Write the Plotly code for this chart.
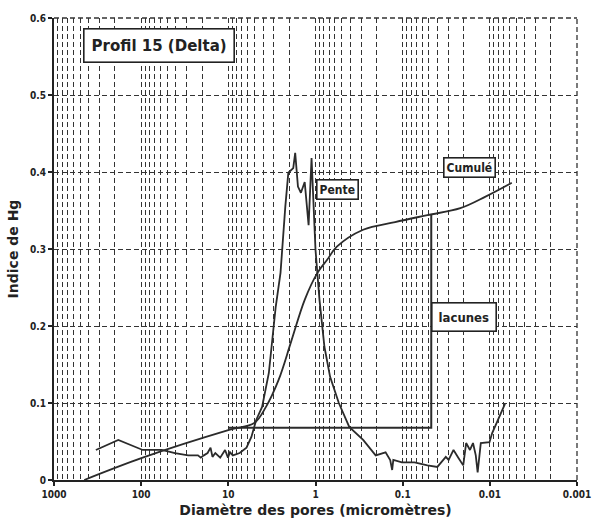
import numpy as np
import plotly.graph_objects as go

# Pore diameter (micrometres) and Hg index
pente_d = [331, 183, 96, 58, 41, 28.9, 22.3, 20.7, 19.1, 17.3, 16.0, 15.2, 14.1, 12.4,
           10.9, 10.1, 9.57, 8.87, 7.41, 6.19, 5.44, 4.79, 4.10, 3.43, 2.86, 2.52, 2.22,
           2.05, 1.80, 1.71, 1.59, 1.47, 1.33, 1.20, 1.11, 1.05, 1.00, 0.90, 0.79, 0.68,
           0.54, 0.41, 0.284, 0.204, 0.157, 0.139, 0.132, 0.128, 0.102, 0.073, 0.052,
           0.040, 0.0365, 0.032, 0.0297, 0.0261, 0.0230, 0.0202, 0.0187, 0.0169, 0.0156,
           0.0145, 0.0138, 0.0131, 0.0127, 0.0101, 0.0094, 0.0067]
pente_v = [0.039, 0.052, 0.039, 0.039, 0.035, 0.032, 0.032, 0.029, 0.032, 0.035, 0.042,
           0.030, 0.035, 0.029, 0.039, 0.029, 0.036, 0.032, 0.035, 0.042, 0.056, 0.078,
           0.095, 0.139, 0.225, 0.269, 0.355, 0.399, 0.405, 0.425, 0.381, 0.373, 0.387,
           0.331, 0.418, 0.355, 0.299, 0.234, 0.173, 0.134, 0.100, 0.069, 0.052, 0.032,
           0.036, 0.026, 0.013, 0.026, 0.023, 0.023, 0.019, 0.017, 0.023, 0.030, 0.026,
           0.039, 0.029, 0.019, 0.048, 0.039, 0.048, 0.032, 0.010, 0.035, 0.048, 0.049,
           0.061, 0.099]

cumule_d = [450, 96, 9.8, 5.04, 3.7, 2.65, 1.90, 1.33, 0.95, 0.735, 0.569, 0.284,
            0.122, 0.052, 0.0218, 0.0112, 0.0056]
cumule_v = [0.0, 0.029, 0.065, 0.074, 0.095, 0.13, 0.18, 0.234, 0.269, 0.286, 0.303,
            0.325, 0.335, 0.344, 0.353, 0.368, 0.386]

lacunes_d = [10, 0.047, 0.047]
lacunes_v = [0.068, 0.068, 0.345]

x_ticks = [1000, 100, 10, 1, 0.1, 0.01, 0.001]
x_tick_text = ["1000", "100", "10", "1", "0.1", "0.01", "0.001"]
y_ticks = [0, 0.1, 0.2, 0.3, 0.4, 0.5, 0.6]
y_tick_text = ["0", "0.1", "0.2", "0.3", "0.4", "0.5", "0.6"]

# minor log grid: 2..9 within every decade
minor_vals = [m * 10.0 ** e for e in range(-3, 3) for m in range(2, 10)]

ink = "#2b2b2b"
grid = "#333333"
dash = "5px,3px"

fig = go.Figure()
fig.add_trace(go.Scatter(x=pente_d, y=pente_v, mode="lines",
                         line=dict(color=ink, width=1.8), name="Pente"))
fig.add_trace(go.Scatter(x=cumule_d, y=cumule_v, mode="lines", line_shape="spline",
                         line=dict(color=ink, width=1.8), name="Cumulé"))
fig.add_trace(go.Scatter(x=lacunes_d, y=lacunes_v, mode="lines",
                         line=dict(color=ink, width=2), name="lacunes"))

labels = [
    ("Profil 15 (Delta)", 1.795, 0.564, 15, 7, "DejaVu Sans"),
    ("Pente", -0.256, 0.377, 12, 2, "DejaVu Sans Condensed"),
    ("Cumulé", -1.761, 0.406, 12, 2, "DejaVu Sans Condensed"),
    ("lacunes", -1.706, 0.212, 13, 6, "DejaVu Sans Condensed"),
]
for text, lx, ly, fs, pad, fam in labels:
    fig.add_annotation(x=lx, y=ly, xref="x", yref="y", text="<b>%s</b>" % text,
                       showarrow=False,
                       font=dict(family=fam, size=fs, color="#222"),
                       bgcolor="white", bordercolor="#222", borderwidth=1.6,
                       borderpad=pad)

# dashed frame on the top and right edges of the plotting area
fig.add_shape(type="line", xref="paper", yref="paper", x0=0, x1=1, y0=1, y1=1,
              line=dict(color=grid, width=1.3, dash=dash))
fig.add_shape(type="line", xref="paper", yref="paper", x0=1, x1=1, y0=0, y1=1,
              line=dict(color=grid, width=1.3, dash=dash))

tick_font = dict(family="DejaVu Sans Condensed", size=10, color="#222", weight="bold")

fig.update_layout(
    width=603, height=531,
    margin=dict(l=50, r=15, t=18, b=51),
    paper_bgcolor="white", plot_bgcolor="white",
    showlegend=False,
    xaxis=dict(
        type="log", range=[3, -3],
        tickmode="array", tickvals=x_ticks, ticktext=x_tick_text,
        tickfont=tick_font,
        ticks="outside", ticklen=4, tickcolor="#222", tickwidth=1.5,
        showline=True, linecolor="#222", linewidth=2,
        showgrid=True, gridcolor=grid, gridwidth=1.2, griddash=dash,
        minor=dict(tickmode="array", tickvals=minor_vals, showgrid=True,
                   gridcolor=grid, gridwidth=1.2, griddash=dash, ticks=""),
        zeroline=False,
        title=dict(text="<b>Diamètre des pores (micromètres)</b>", standoff=6,
                   font=dict(family="DejaVu Sans", size=14, color="#222")),
    ),
    yaxis=dict(
        range=[0, 0.6],
        tickmode="array", tickvals=y_ticks, ticktext=y_tick_text,
        tickfont=tick_font,
        ticks="outside", ticklen=4, tickcolor="#222", tickwidth=1.5,
        showline=True, linecolor="#222", linewidth=2,
        showgrid=True, gridcolor=grid, gridwidth=1.2, griddash=dash,
        zeroline=False,
        title=dict(text="<b>Indice de Hg</b>", standoff=8,
                   font=dict(family="DejaVu Sans", size=14, color="#222")),
    ),
)

fig.write_html("out.html")
